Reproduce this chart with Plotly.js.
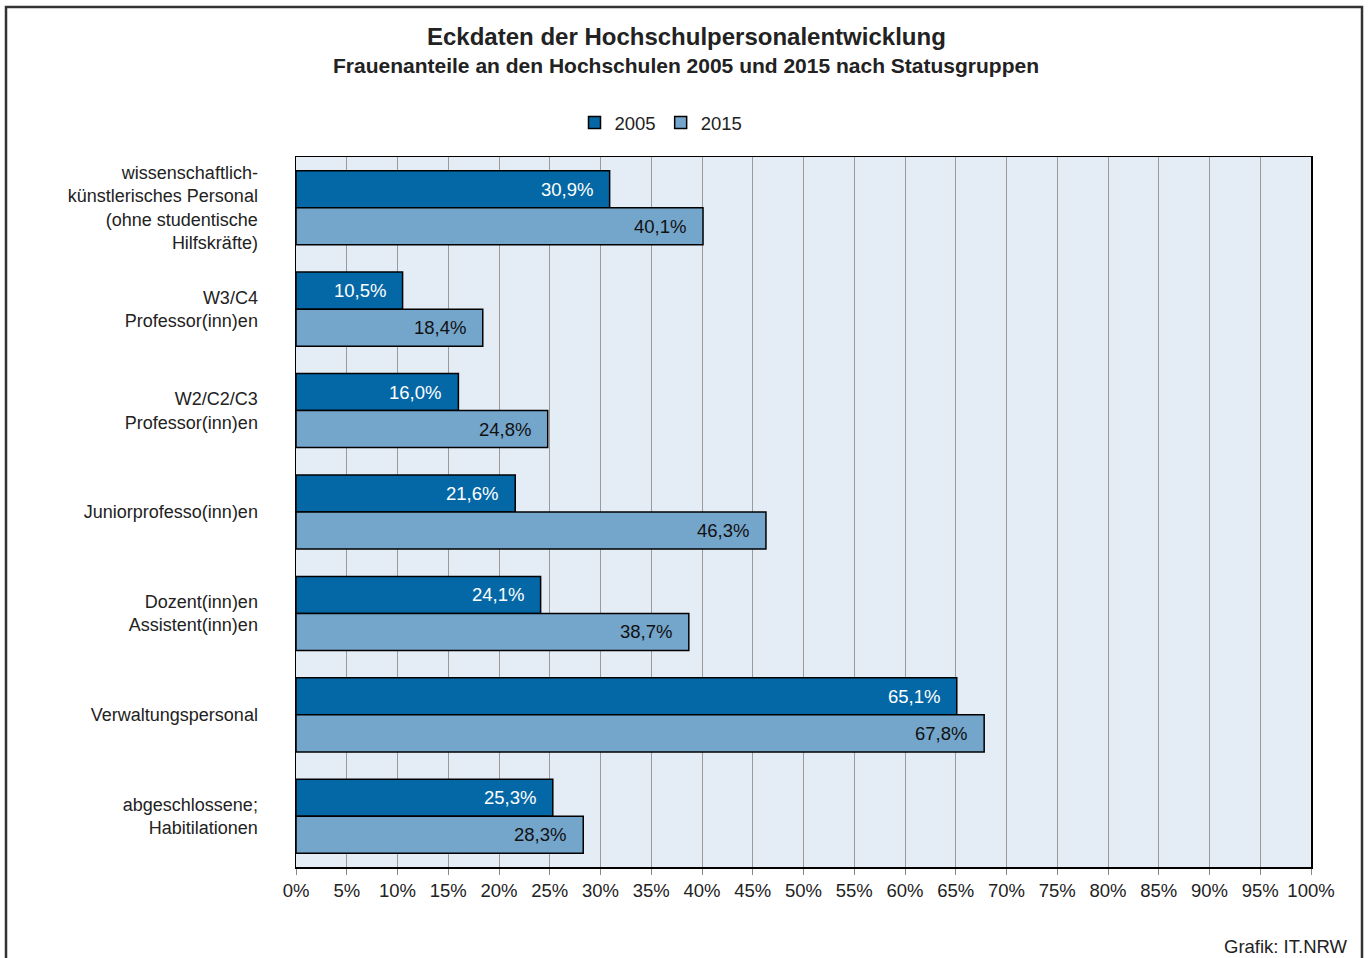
<!DOCTYPE html>
<html><head><meta charset="utf-8">
<script src="https://cdn.plot.ly/plotly-3.0.1.min.js"></script>
<style>html,body{margin:0;padding:0;background:#fff;}#chart{width:1370px;height:958px;}</style>
</head><body><div id="chart"></div>
<script>
const categories = [
  "wissenschaftlich-<br>künstlerisches Personal<br>(ohne studentische<br>Hilfskräfte)",
  "W3/C4<br>Professor(inn)en",
  "W2/C2/C3<br>Professor(inn)en",
  "Juniorprofesso(inn)en",
  "Dozent(inn)en<br>Assistent(inn)en",
  "Verwaltungspersonal",
  "abgeschlossene;<br>Habitilationen"
];
const values2005 = [30.9, 10.5, 16.0, 21.6, 24.1, 65.1, 25.3];
const values2015 = [40.1, 18.4, 24.8, 46.3, 38.7, 67.8, 28.3];
const seriesNames = ["2005", "2015"];

const FONT = "Liberation Sans, Arial, sans-serif";
const fmt = v => v.toFixed(1).replace('.', ',') + '%';

const traces = [
  {type:'bar', orientation:'h', name:seriesNames[0], y:categories, x:values2005,
   marker:{color:'#0568a6', line:{color:'#000', width:1.5}}, hoverinfo:'x'},
  {type:'bar', orientation:'h', name:seriesNames[1], y:categories, x:values2015,
   marker:{color:'#74a5cb', line:{color:'#000', width:1.5}}, hoverinfo:'x'}
];

const annotations = [];
categories.forEach((c,i)=>{
  annotations.push({x:values2005[i], y:c, xref:'x', yref:'y', text:fmt(values2005[i]),
    showarrow:false, xanchor:'right', xshift:-15, yshift:18.5,
    font:{family:FONT, size:18.5, color:'#ffffff'}});
  annotations.push({x:values2015[i], y:c, xref:'x', yref:'y', text:fmt(values2015[i]),
    showarrow:false, xanchor:'right', xshift:-15, yshift:-18.5,
    font:{family:FONT, size:18.5, color:'#111111'}});
});
annotations.push({xref:'paper', yref:'paper', x:(686-296)/1015, y:(867-36)/710, text:'<b>Eckdaten der Hochschulpersonalentwicklung</b>',
  showarrow:false, xanchor:'center', yanchor:'middle', font:{family:FONT, size:24, color:'#222'}});
annotations.push({xref:'paper', yref:'paper', x:(686-296)/1015, y:(867-66)/710, text:'<b>Frauenanteile an den Hochschulen 2005 und 2015 nach Statusgruppen</b>',
  showarrow:false, xanchor:'center', yanchor:'middle', font:{family:FONT, size:21, color:'#222'}});
annotations.push({xref:'paper', yref:'paper', x:(1350-296)/1015, y:(867-946)/710, text:'Grafik: IT.NRW',
  showarrow:false, xanchor:'right', yanchor:'middle', font:{family:FONT, size:18.5, color:'#222'}});

const layout = {
  width:1370, height:958,
  margin:{l:296, r:59, t:157, b:91},
  paper_bgcolor:'#ffffff', plot_bgcolor:'#e4ecf6',
  font:{family:FONT, size:18, color:'#222'},
  barmode:'group', bargap:0.27, bargroupgap:0,
  showlegend:true,
  legend:{orientation:'h', x:(661-296)/1015, xanchor:'center', y:(867-123)/710, yanchor:'middle',
    font:{family:FONT, size:18.5, color:'#222'}, itemwidth:30, tracegroupgap:0, itemclick:false},
  xaxis:{range:[0,100], dtick:5, tick0:0, ticksuffix:'%', showgrid:true, gridcolor:'#9a9a9a', gridwidth:1,
    ticks:'outside', ticklen:6, tickcolor:'#888', showline:true, mirror:true, linecolor:'#000', linewidth:1.5,
    zeroline:false, tickfont:{family:FONT, size:18.5, color:'#222'}, fixedrange:true},
  yaxis:{autorange:'reversed', type:'category', showgrid:false, ticks:'', showline:true, mirror:true,
    linecolor:'#000', linewidth:1.5, ticklabelstandoff:33, tickfont:{family:FONT, size:18, color:'#222'}, fixedrange:true},
  annotations:annotations,
  shapes:[{type:'rect', xref:'paper', yref:'paper', x0:(6-296)/1015, x1:(1362-296)/1015, y0:(867-975)/710, y1:(867-7)/710,
    line:{color:'#333', width:2.5}, fillcolor:'rgba(0,0,0,0)', layer:'above'}]
};

Plotly.newPlot('chart', traces, layout, {displayModeBar:false, staticPlot:true});
</script></body></html>
